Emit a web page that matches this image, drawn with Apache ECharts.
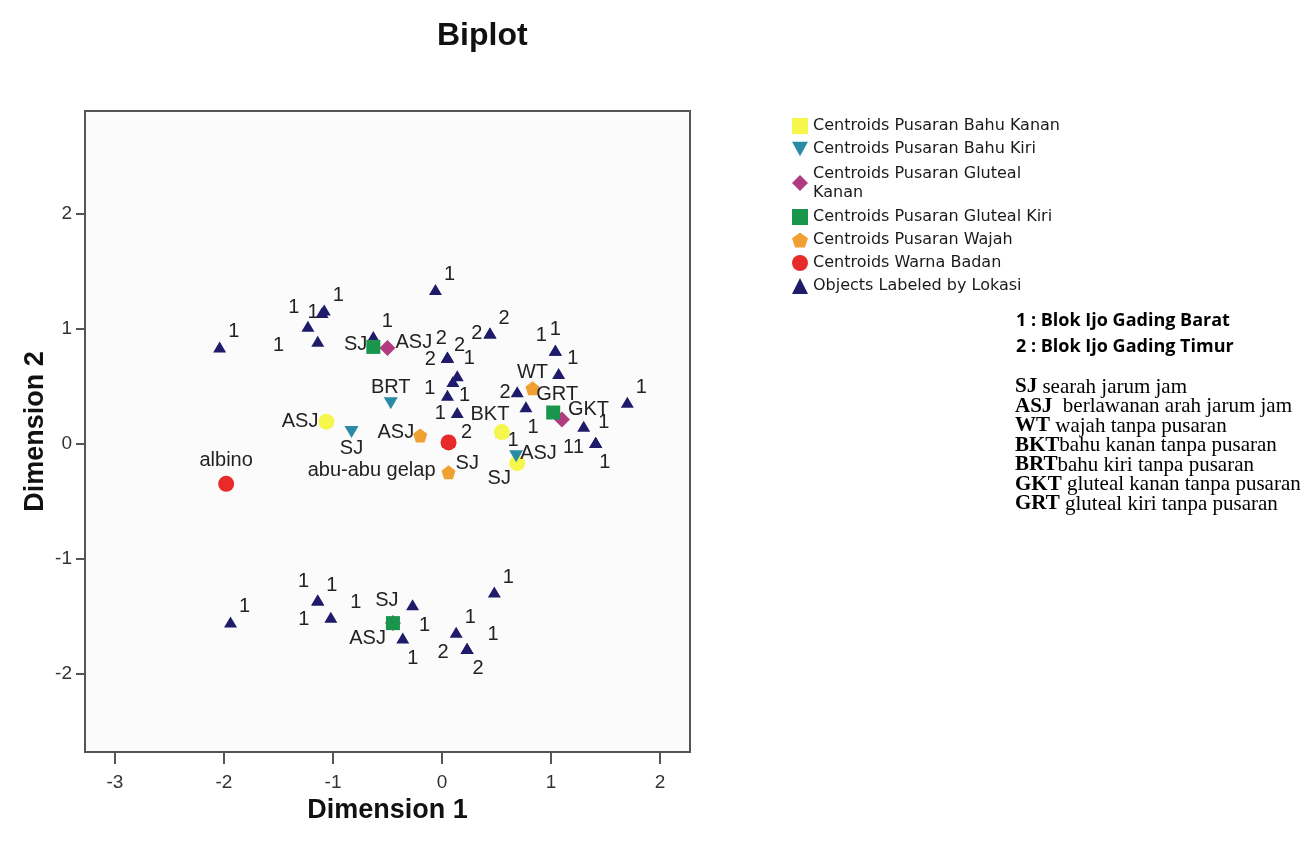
<!DOCTYPE html>
<html><head><meta charset="utf-8">
<script src="https://cdn.jsdelivr.net/npm/echarts@6/dist/echarts.min.js"></script>
<style>html,body{margin:0;padding:0;background:#fff}#c{width:1314px;height:844px}</style>
</head><body><div id="c"></div>
<script>
// ---- data ----
const xTicks = [-3, -2, -1, 0, 1, 2];
const yTicks = [-2, -1, 0, 1, 2];

const seriesNames = [
  'Centroids Pusaran Bahu Kanan',
  'Centroids Pusaran Bahu Kiri',
  'Centroids Pusaran Gluteal Kanan',
  'Centroids Pusaran Gluteal Kiri',
  'Centroids Pusaran Wajah',
  'Centroids Warna Badan',
  'Objects Labeled by Lokasi'
];

// Objects labeled by Lokasi
const objX = [-2.04, -1.23, -1.08, -1.10, -1.14, -0.63, -0.06, 0.44, 0.44, 0.05, 0.05, 0.05, 0.14, 0.10, 0.05, 0.14, 0.69, 0.77, 1.04, 1.04, 1.07, 1.70, 1.30, 1.41, 1.41, 1.41, 0.06, 0.55,
              -1.94, -1.14, -1.14, -1.02, -0.27, -0.45, -0.36, 0.13, 0.23, 0.23, 0.23, 0.48];
const objY = [0.84, 1.02, 1.16, 1.14, 0.89, 0.93, 1.34, 0.96, 0.96, 0.75, 0.75, 0.75, 0.59, 0.54, 0.42, 0.27, 0.45, 0.32, 0.81, 0.81, 0.61, 0.36, 0.15, 0.01, 0.01, 0.01, 0.01, 0.10,
              -1.55, -1.36, -1.36, -1.51, -1.40, -1.56, -1.69, -1.64, -1.78, -1.78, -1.78, -1.29];
const objLabels = ['1','1','1','1','1','1','1','2','2','2','2','2','1','1','1','1','2','1','1','1','1','1','1','1','1','1','2','1',
                   '1','1','1','1','1','1','1','1','2','2','1','1'];

// Centroids
const bahuKananX = [-1.06, 0.55, 0.69];
const bahuKananY = [0.19, 0.10, -0.17];
const bahuKananLabels = ['ASJ', 'BKT', 'SJ'];

const bahuKiriX = [-0.47, -0.83, 0.68];
const bahuKiriY = [0.35, 0.10, -0.11];
const bahuKiriLabels = ['BRT', 'SJ', 'ASJ'];

const glutealKananX = [-0.50, 1.10, -0.45];
const glutealKananY = [0.83, 0.21, -1.56];
const glutealKananLabels = ['ASJ', 'GKT', 'SJ'];

const glutealKiriX = [-0.63, 1.02, -0.45];
const glutealKiriY = [0.84, 0.27, -1.56];
const glutealKiriLabels = ['SJ', 'GRT', 'ASJ'];

const wajahX = [0.83, -0.20, 0.06];
const wajahY = [0.48, 0.07, -0.25];
const wajahLabels = ['WT', 'ASJ', 'SJ'];

const warnaX = [-1.98, 0.06];
const warnaY = [-0.35, 0.01];
const warnaLabels = ['albino', 'abu-abu gelap'];

// ---- label placement (style) ----
const objPlace = [
  ['right',-3,-15],['left',3,-19],['right',-3,-15],['left',8,0],['left',-22,4],['right',-3,-15],['right',-3,-15],
  ['left',4,0],['right',-3,-15],['left',0,2],['left',11,-19],['right',-5,-12],['right',-5,-17],['left',-6,7],
  ['right',0,0],['left',0,1],['left',5,1],['bottom',7,0],['left',3,-15],['top',0,0],['right',-3,-15],['right',-3,-15],
  ['right',3,-4],['left',0,5],['left',-10,5],['bottom',9,0],['right',1,-10],['right',-6,8],
  ['right',-3,-15],['left',3,-19],['right',-3,-15],['left',-10,2],['bottom',12,0],['left',-20,-21],['bottom',10,0],
  ['right',-3,-15],['left',-7,4],['bottom',11,0],['right',9,-14],['right',-3,-15]
];
const placeBahuKanan = [['left',5,0],['top',-12,5],['bottom',-18,-8]];
const placeBahuKiri = [['top',0,5],['bottom',0,-5],['right',-8,-3]];
const placeGlutKanan = [['right',-5,-6],['right',-7,-10],['top',-6,0]];
const placeGlutKiri = [['left',6,-2],['top',4,4],['left',5,15]];
const placeWajah = [['top',0,6],['left',6,-3],['right',-5,-9]];
const placeWarna = [['top',0,0],['left',0,28]];

const FONT = '"Liberation Sans", Arial, sans-serif';
const labelBase = {show: true, color: '#222', fontSize: 20, fontFamily: FONT, distance: 5};

function build(xs, ys, labels, places) {
  return xs.map((x, i) => ({
    value: [x, ys[i]],
    label: Object.assign({}, labelBase, {formatter: labels[i], position: places[i][0], offset: [places[i][1], places[i][2]]})
  }));
}

const pentagon = 'path://M5,0L10,3.6L8.1,9.5L1.9,9.5L0,3.6Z';
const invTri = 'path://M0,0L10,0L5,9Z';

const chart = echarts.init(document.getElementById('c'), null, {renderer: 'canvas'});
const option = {
  animation: false,
  backgroundColor: '#ffffff',
  title: {
    text: 'Biplot', left: 437, top: 20, padding: 0,
    textStyle: {fontFamily: FONT, fontWeight: 'bold', fontSize: 32, color: '#111'}
  },
  grid: {left: 85, right: 624, top: 111, bottom: 92, show: true, borderColor: '#555', borderWidth: 2, backgroundColor: '#fbfbfb'},
  xAxis: {
    type: 'value', min: -3.275, max: 2.275,
    name: 'Dimension 1', nameLocation: 'middle', nameGap: 38,
    nameTextStyle: {fontFamily: FONT, fontWeight: 'bold', fontSize: 27, color: '#111'},
    axisLine: {show: false, onZero: false},
    axisTick: {show: true, customValues: xTicks, length: 12, lineStyle: {color: '#555', width: 2}},
    axisLabel: {customValues: xTicks, fontFamily: FONT, fontSize: 19, color: '#333', margin: 21},
    splitLine: {show: false}
  },
  yAxis: {
    type: 'value', min: -2.68, max: 2.89,
    name: 'Dimension 2', nameLocation: 'middle', nameGap: 36,
    nameTextStyle: {fontFamily: FONT, fontWeight: 'bold', fontSize: 27, color: '#111'},
    axisLine: {show: false, onZero: false},
    axisTick: {show: true, customValues: yTicks, length: 9, lineStyle: {color: '#555', width: 2}},
    axisLabel: {customValues: yTicks, fontFamily: FONT, fontSize: 19, color: '#333', margin: 13},
    splitLine: {show: false}
  },
  legend: {
    orient: 'vertical', left: 792, top: 118, padding: 0, itemGap: 7,
    itemWidth: 16, itemHeight: 16,
    textStyle: {fontFamily: '"DejaVu Sans", sans-serif', fontSize: 16, lineHeight: 16, color: '#1a1a1a',
      rich: {g: {fontFamily: '"DejaVu Sans", sans-serif', fontSize: 16, lineHeight: 19, color: '#1a1a1a'}}},
    formatter: n => n === 'Centroids Pusaran Gluteal Kanan' ? '{g|Centroids Pusaran Gluteal}\n{g|Kanan}' : n,
    data: [
      {name: seriesNames[0], icon: 'rect'},
      {name: seriesNames[1], icon: invTri},
      {name: seriesNames[2], icon: 'diamond'},
      {name: seriesNames[3], icon: 'rect'},
      {name: seriesNames[4], icon: pentagon},
      {name: seriesNames[5], icon: 'circle'},
      {name: seriesNames[6], icon: 'triangle'}
    ]
  },
  graphic: [
    {type: 'text', x: 1016, y: 321, style: {text: '1 : Blok Ijo Gading Barat', fontFamily: '"Open Sans", sans-serif', fontWeight: 'bold', fontSize: 18, fill: '#000', verticalAlign: 'middle'}},
    {type: 'text', x: 1016, y: 347, style: {text: '2 : Blok Ijo Gading Timur', fontFamily: '"Open Sans", sans-serif', fontWeight: 'bold', fontSize: 18, fill: '#000', verticalAlign: 'middle'}}
  ].concat([
    '{b|SJ} searah jarum jam',
    '{b|ASJ}  berlawanan arah jarum jam',
    '{b|WT} wajah tanpa pusaran',
    '{b|BKT}bahu kanan tanpa pusaran',
    '{b|BRT}bahu kiri tanpa pusaran',
    '{b|GKT} gluteal kanan tanpa pusaran',
    '{b|GRT} gluteal kiri tanpa pusaran'
  ].map((t, i) => ({
    type: 'text', x: 1015, y: 387 + i * 19.5,
    style: {text: t, fontFamily: '"Liberation Serif", serif', fontSize: 21, fill: '#000', verticalAlign: 'middle',
      rich: {b: {fontFamily: '"Liberation Serif", serif', fontWeight: 'bold', fontSize: 21, fill: '#000'}}}
  }))),
  series: [
    {name: seriesNames[6], type: 'scatter', symbol: 'triangle', symbolSize: [13, 11],
      itemStyle: {color: '#1f1b6b', opacity: 1}, data: build(objX, objY, objLabels, objPlace), z: 2},
    {name: seriesNames[0], type: 'scatter', symbol: 'circle', symbolSize: 16,
      itemStyle: {color: '#f7f64c', opacity: 1}, data: build(bahuKananX, bahuKananY, bahuKananLabels, placeBahuKanan), z: 3},
    {name: seriesNames[1], type: 'scatter', symbol: 'triangle', symbolRotate: 180, symbolSize: [14, 12],
      itemStyle: {color: '#2a8aa8', opacity: 1}, data: build(bahuKiriX, bahuKiriY, bahuKiriLabels, placeBahuKiri), z: 3},
    {name: seriesNames[2], type: 'scatter', symbol: 'diamond', symbolSize: 16,
      itemStyle: {color: '#b23a80', opacity: 1}, data: build(glutealKananX, glutealKananY, glutealKananLabels, placeGlutKanan), z: 3},
    {name: seriesNames[3], type: 'scatter', symbol: 'rect', symbolSize: 14,
      itemStyle: {color: '#1a964c', opacity: 1}, data: build(glutealKiriX, glutealKiriY, glutealKiriLabels, placeGlutKiri), z: 4},
    {name: seriesNames[4], type: 'scatter', symbol: pentagon, symbolSize: 14,
      itemStyle: {color: '#f0a030', opacity: 1}, data: build(wajahX, wajahY, wajahLabels, placeWajah), z: 4},
    {name: seriesNames[5], type: 'scatter', symbol: 'circle', symbolSize: 16,
      itemStyle: {color: '#e82a2a', opacity: 1}, data: build(warnaX, warnaY, warnaLabels, placeWarna), z: 4}
  ]
};
chart.setOption(option);
</script>
</body></html>
